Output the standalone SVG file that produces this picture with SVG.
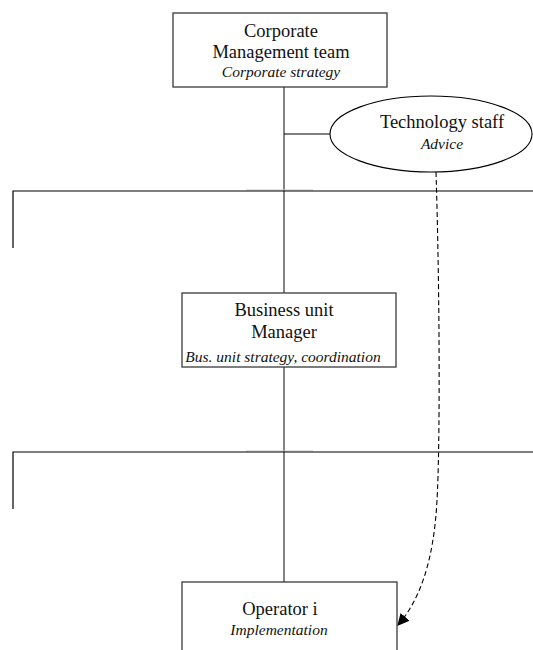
<svg xmlns="http://www.w3.org/2000/svg" width="533" height="650" viewBox="0 0 533 650">
  <defs>
    <style>
      .box { fill: #ffffff; stroke: #3a3a3a; stroke-width: 1.3; }
      .oval { fill: #ffffff; stroke: #000000; stroke-width: 1.1; }
      .trunk { fill: none; stroke: #505050; stroke-width: 1.4; }
      .bar { fill: none; stroke: #000000; stroke-width: 1.2; }
      .ghost { fill: none; stroke: #c8c8c8; stroke-width: 1.2; }
      .advice { fill: none; stroke: #000000; stroke-width: 1.1; stroke-dasharray: 5 3; }
      .t { font-family: "Liberation Serif", "Times New Roman", serif; font-size: 18.5px; fill: #111111; text-anchor: middle; }
      .s { font-family: "Liberation Serif", "Times New Roman", serif; font-size: 15.5px; font-style: italic; fill: #111111; text-anchor: middle; }
    </style>
    <marker id="head" viewBox="0 0 10 10" refX="9" refY="5" markerWidth="12" markerHeight="12" markerUnits="userSpaceOnUse" orient="auto">
      <path d="M0,0 L10,5 L0,10 Z" fill="#000000"/>
    </marker>
  </defs>

  <!-- reporting lines and levels -->
  <g id="connectors">
    <line class="trunk" x1="284" y1="87" x2="284" y2="293"/>
    <line class="trunk" x1="284" y1="367" x2="284" y2="582"/>
    <line class="bar" x1="284" y1="134" x2="330" y2="134"/>
    <line class="ghost" x1="246" y1="190" x2="313" y2="190"/>
    <polyline class="bar" points="13,248 13,191 533,191"/>
    <line class="ghost" x1="246" y1="451" x2="313" y2="451"/>
    <polyline class="bar" points="13,509 13,452 533,452"/>
    <path class="advice" d="M436,172 C440,300 440,450 437,500 C434,560 420,600 398,625" marker-end="url(#head)"/>
  </g>

  <g id="corporate">
    <rect class="box" x="173" y="13" width="214" height="74"/>
    <text class="t" x="281" y="37">Corporate</text>
    <text class="t" x="281" y="58">Management team</text>
    <text class="s" x="281" y="77">Corporate strategy</text>
  </g>

  <g id="technology">
    <ellipse class="oval" cx="431" cy="134" rx="101" ry="38"/>
    <text class="t" x="442" y="128">Technology staff</text>
    <text class="s" x="442" y="149">Advice</text>
  </g>

  <g id="business">
    <rect class="box" x="182" y="293" width="214" height="74"/>
    <text class="t" x="284" y="316">Business unit</text>
    <text class="t" x="284" y="338">Manager</text>
    <text class="s" x="283" y="362">Bus. unit strategy, coordination</text>
  </g>

  <g id="operator">
    <rect class="box" x="182" y="582" width="215" height="80"/>
    <text class="t" x="280" y="615">Operator i</text>
    <text class="s" x="279" y="635">Implementation</text>
  </g>
</svg>
